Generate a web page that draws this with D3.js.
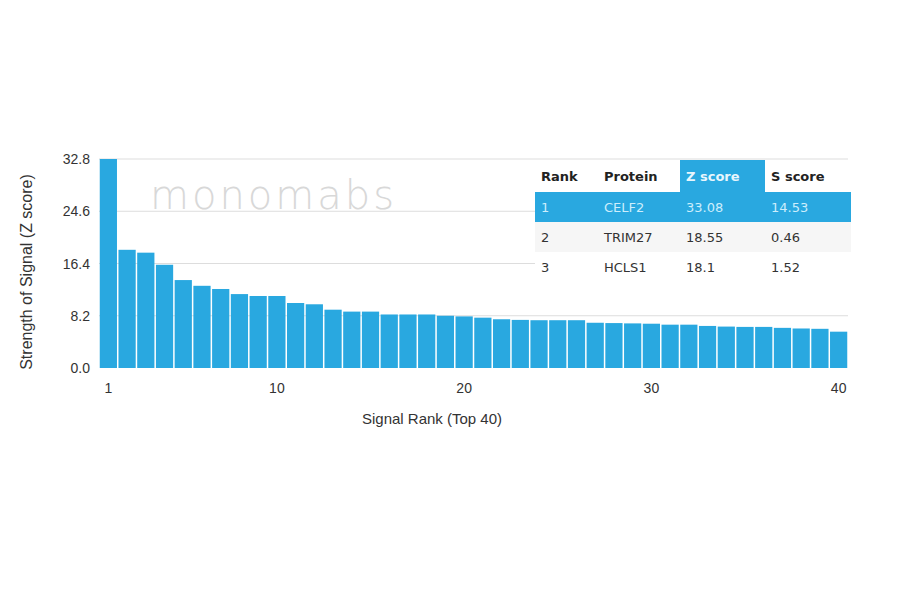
<!DOCTYPE html>
<html><head><meta charset="utf-8">
<script src="https://cdn.jsdelivr.net/npm/d3@7"></script>
<style>body{margin:0;background:#fff;font-family:"Liberation Sans",Arial,sans-serif}</style>
</head><body><svg id="c" width="900" height="594"></svg>
<script>
const ranks = d3.range(1,41);
const zScores = [33.08,18.55,18.1,16.2,13.8,12.9,12.4,11.6,11.3,11.3,10.2,10.0,9.15,8.85,8.85,8.4,8.4,8.4,8.2,8.1,7.9,7.65,7.55,7.5,7.5,7.5,7.1,7.05,7.0,6.95,6.8,6.8,6.6,6.5,6.45,6.45,6.3,6.2,6.15,5.7];
const yTicks = [0,8.2,16.4,24.6,32.8];
const xTicks = [1,10,20,30,40];
const tableHead = ["Rank","Protein","Z score","S score"];
const tableRows = [["1","CELF2","33.08","14.53"],["2","TRIM27","18.55","0.46"],["3","HCLS1","18.1","1.52"]];

const svg = d3.select("#c");
const L=99,R=848,T=159,B=368;
const x = d3.scaleBand().domain(ranks).range([L,R]).paddingInner(0.08).paddingOuter(0.04);
const y = d3.scaleLinear().domain([0,32.8]).range([B,T]);
const blue="#29a8e0";

svg.append("g").selectAll("line").data(yTicks.slice(1)).join("line")
 .attr("x1",L).attr("x2",R).attr("y1",d=>y(d)).attr("y2",d=>y(d)).attr("stroke","#ddd");
svg.append("text").attr("x",150).attr("y",209).attr("font-size",40).attr("fill","#d8d8d8")
 .attr("letter-spacing",3).attr("font-family","DejaVu Sans").attr("font-weight",200).text("monomabs");

svg.append("g").selectAll("rect").data(zScores).join("rect")
 .attr("x",(d,i)=>x(ranks[i])).attr("width",x.bandwidth())
 .attr("y",d=>y(Math.min(d,32.8))).attr("height",d=>B-y(Math.min(d,32.8))).attr("fill",blue);

svg.append("g").selectAll("text").data(yTicks).join("text")
 .attr("x",90).attr("y",d=>y(d)+5).attr("text-anchor","end").attr("font-size",14).attr("fill","#333")
 .text(d=>d.toFixed(1));
svg.append("g").selectAll("text").data(xTicks).join("text")
 .attr("x",d=>x(d)+x.bandwidth()/2).attr("y",393).attr("text-anchor","middle").attr("font-size",14).attr("fill","#333").text(d=>d);
svg.append("text").attr("x",432).attr("y",424).attr("text-anchor","middle").attr("font-size",15).attr("fill","#333").text("Signal Rank (Top 40)");
svg.append("text").attr("transform","translate(32,272) rotate(-90)").attr("text-anchor","middle").attr("font-size",16).attr("fill","#333").text("Strength of Signal (Z score)");

const colX=[541,604,686,771], tx=535, tw=316, rowY=[160,192,222,252];
const tg=svg.append("g").attr("font-family","DejaVu Sans").attr("font-size",13);
tg.append("rect").attr("x",tx).attr("y",160).attr("width",tw).attr("height",32).attr("fill","#fff");
tg.append("rect").attr("x",680).attr("y",160).attr("width",85).attr("height",34).attr("fill",blue);
tg.append("rect").attr("x",tx).attr("y",192).attr("width",tw).attr("height",30).attr("fill",blue);
tg.append("rect").attr("x",tx).attr("y",222).attr("width",tw).attr("height",30).attr("fill","#f6f6f6");
tg.append("rect").attr("x",tx).attr("y",252).attr("width",tw).attr("height",30).attr("fill","#fff");
tableHead.forEach((h,j)=>tg.append("text").attr("x",colX[j]).attr("y",181).attr("font-weight","bold")
 .attr("fill",j==2?"#e8f6fd":"#222").text(h));
tableRows.forEach((r,i)=>r.forEach((c,j)=>tg.append("text").attr("x",colX[j]).attr("y",rowY[i+1]+20)
 .attr("fill",i==0?"#cdeefc":"#333").text(c)));
</script></body></html>
